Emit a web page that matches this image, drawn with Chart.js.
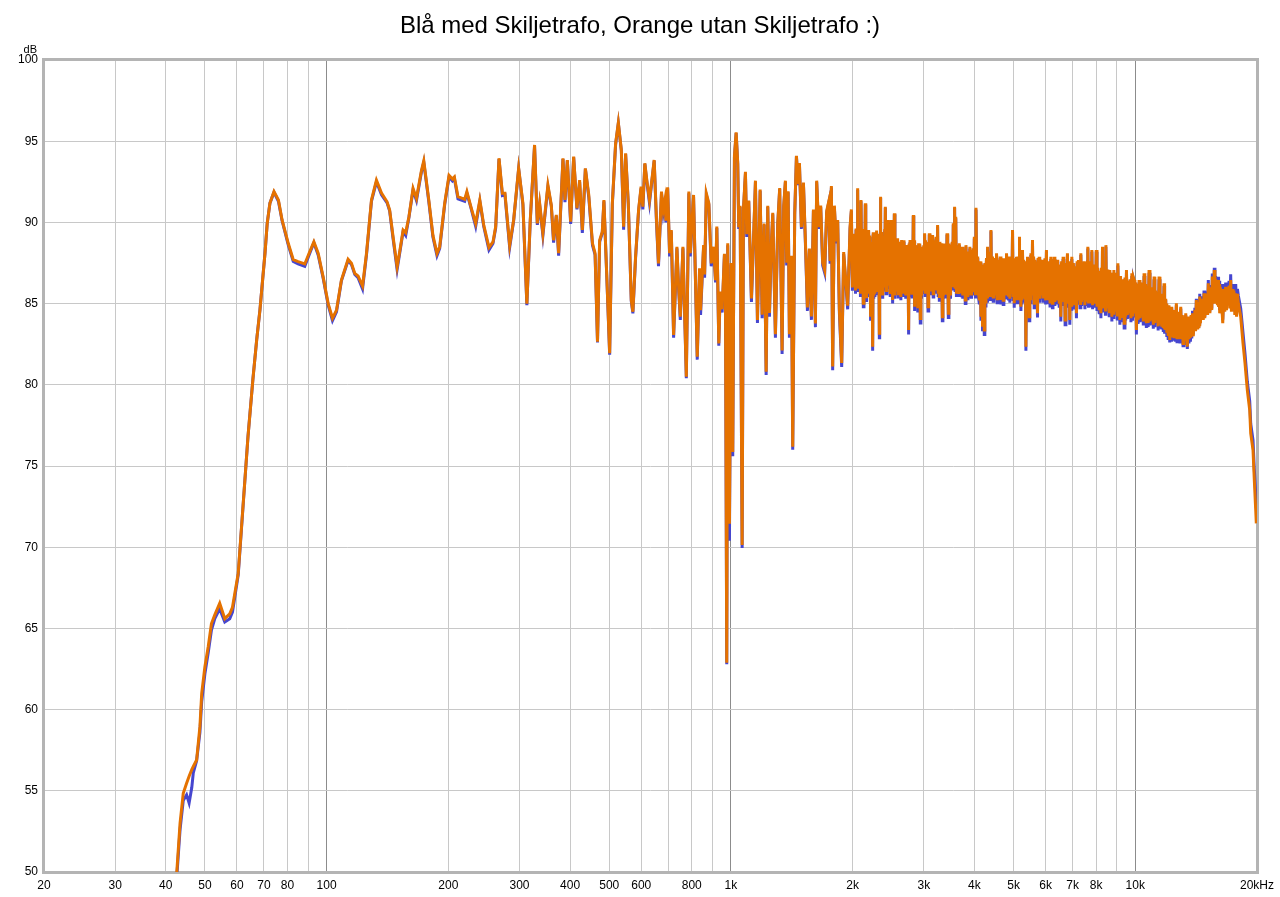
<!DOCTYPE html>
<html lang="sv">
<head>
<meta charset="utf-8">
<title>Blå med Skiljetrafo, Orange utan Skiljetrafo :)</title>
<script src="https://cdn.jsdelivr.net/npm/chart.js@4.4.1/dist/chart.umd.min.js"></script>
<style>
  html, body { margin: 0; padding: 0; background: #fff; }
  #wrap { width: 1280px; height: 897px; }
</style>
</head>
<body>
<div id="wrap"><canvas id="fr" width="1280" height="897"></canvas></div>
<script>
// Frequency response, two measurements (blue = with isolation transformer,
// orange = without). Values read off the REW screenshot, split by band.

const TITLE = 'Blå med Skiljetrafo, Orange utan Skiljetrafo :)';

// 40 - 200 Hz
const freqLow = [
  42.6, 43.4, 44.2, 45.05, 45.7, 46.4, 46.8, 47.7, 48.6, 49.1,
  50.0, 50.95, 51.9, 52.9, 54.4, 56.0, 57.6, 58.5, 60.45, 61.6,
  63.9, 65.7, 67.15, 68.4, 70.4, 71.3, 72.4, 74.1, 76.0, 77.6,
  80.4, 82.7, 85.0, 88.3, 90.5, 93.0, 95.3, 98.0, 100.9, 103.4,
  105.8, 108.8, 113.0, 115.2, 117.4, 119.6, 122.7, 125.5, 129.1, 132.8,
  136.7, 141.1, 143.2, 146.0, 149.4, 152.3, 154.6, 156.9, 159.8, 163.6,
  166.8, 171.6, 173.9, 178.9, 183.2, 187.5, 190.4, 195.9
];
const orangeLow = [
  50.0, 53.0, 54.85, 55.46, 55.9, 56.3, 56.5, 56.9, 58.95, 61.0,
  62.64, 63.87, 65.3, 65.83, 66.55, 65.6, 65.9, 66.3, 68.4, 71.26,
  76.8, 80.3, 82.76, 84.6, 88.1, 89.94, 91.18, 91.9, 91.38, 90.15,
  88.7, 87.7, 87.58, 87.44, 88.1, 88.8, 88.1, 86.66, 85.0, 84.1,
  84.6, 86.45, 87.73, 87.48, 86.86, 86.7, 86.08, 88.1, 91.38, 92.6,
  91.8, 91.27, 90.76, 89.12, 87.27, 88.5, 89.53, 89.37, 90.35, 92.1,
  91.48, 93.2, 93.8, 91.4, 89.2, 88.1, 88.5, 91.18
];
const blueLow = [
  49.7, 52.6, 54.4, 54.75, 54.25, 55.2, 56.1, 56.85, 58.6, 60.5,
  62.2, 63.5, 64.9, 65.6, 66.2, 65.4, 65.6, 66.0, 68.3, 71.2,
  76.8, 80.3, 82.76, 84.6, 88.1, 89.94, 91.18, 91.85, 91.3, 90.1,
  88.6, 87.6, 87.45, 87.3, 88.0, 88.75, 88.0, 86.6, 84.9, 83.95,
  84.5, 86.4, 87.65, 87.4, 86.8, 86.6, 85.9, 88.0, 91.3, 92.5,
  91.7, 91.2, 90.7, 89.0, 87.1, 88.4, 89.45, 89.2, 90.3, 92.0,
  91.35, 93.1, 93.7, 91.3, 89.1, 87.95, 88.4, 91.1
];

// 200 Hz - 1 kHz
const freqMid = [
  200.8, 204.7, 207.0, 211.3, 219.5, 222.3, 228.0, 233.7, 239.3, 244.7,
  252.1, 257.9, 261.9, 266.9, 272.1, 276.1, 283.6, 290.1, 298.5, 305.8,
  312.8, 318.9, 326.8, 332.0, 336.4, 342.7, 352.6, 359.5, 364.2, 369.9,
  374.8, 384.2, 388.6, 393.9, 401.4, 408.3, 416.0, 422.4, 429.0, 436.5,
  445.0, 454.5, 461.3, 467.7, 473.4, 480.6, 485.1, 493.5, 501.2, 508.9,
  518.5, 526.6, 535.7, 542.7, 548.9, 557.4, 566.9, 572.1, 580.9, 590.9,
  599.4, 605.5, 612.4, 619.4, 628.8, 645.9, 654.4, 661.9, 673.3, 679.9,
  686.5, 690.5, 697.3, 705.2, 712.0, 721.4, 735.1, 742.3, 749.5, 760.7,
  775.6, 786.9, 793.2, 808.2, 825.4, 836.3, 841.1, 855.8, 860.7, 869.1,
  881.7, 893.8, 905.7, 916.0, 922.7, 933.2, 940.4, 951.1, 963.6, 969.2,
  976.4, 981.9, 991.5
];
const orangeMid = [
  92.9, 92.67, 92.8, 91.58, 91.42, 91.9, 90.87, 89.94, 91.38, 89.84,
  88.46, 88.8, 89.74, 93.95, 91.79, 91.79, 88.6, 90.15, 93.33, 91.18,
  85.0, 90.15, 94.77, 89.94, 91.18, 89.33, 92.3, 91.07, 88.9, 90.46,
  88.1, 93.95, 91.38, 93.84, 90.05, 94.05, 90.87, 92.6, 89.53, 93.33,
  91.69, 88.71, 88.1, 82.66, 88.9, 89.43, 91.38, 86.45, 81.94, 91.18,
  94.87, 96.14, 94.46, 89.74, 94.26, 91.18, 85.22, 84.5, 87.89, 90.76,
  92.2, 90.97, 93.64, 92.6, 91.38, 93.84, 90.15, 87.48, 91.9, 90.76,
  91.38, 90.1, 92.16, 88.1, 89.53, 83.07, 88.5, 86.04, 84.2, 88.5,
  80.5, 91.9, 88.1, 91.69, 81.73, 87.17, 84.6, 88.6, 86.8, 91.79,
  91.18, 87.48, 88.5, 86.45, 89.74, 82.55, 85.75, 84.65, 88.06, 85.78,
  62.88, 88.72, 71.45
];
const blueMid = [
  92.8, 92.55, 92.7, 91.45, 91.3, 91.8, 90.8, 89.75, 91.3, 89.75,
  88.3, 88.7, 89.65, 93.9, 91.65, 91.7, 88.45, 90.1, 93.3, 91.1,
  84.9, 90.1, 94.7, 89.85, 91.1, 89.2, 92.2, 91.0, 88.75, 90.4,
  87.95, 93.9, 91.25, 93.8, 89.9, 94.0, 90.8, 92.5, 89.35, 93.3,
  91.55, 88.6, 88.0, 82.6, 88.8, 89.35, 91.3, 86.4, 81.85, 91.1,
  94.8, 96.1, 94.4, 89.55, 94.2, 91.1, 85.15, 84.4, 87.8, 90.7,
  92.1, 90.8, 93.6, 92.5, 91.2, 93.8, 90.0, 87.3, 91.8, 90.6,
  91.3, 90.0, 92.1, 87.9, 89.45, 82.9, 88.4, 85.9, 84.0, 88.4,
  80.4, 91.8, 87.9, 91.6, 81.55, 87.0, 84.3, 88.5, 86.6, 91.7,
  91.1, 87.3, 88.4, 86.3, 89.65, 82.4, 85.6, 84.45, 88.0, 85.6,
  62.8, 88.6, 70.4
];

// 1 - 2 kHz
const freqUpper = [
  1001.1, 1010.3, 1020.1, 1030.0, 1039.4, 1045.4, 1053.7, 1065.8, 1073.7, 1086.0,
  1094.1, 1106.6, 1123.8, 1136.7, 1149.7, 1162.9, 1180.9, 1194.4, 1208.1, 1222.0,
  1233.2, 1245.2, 1257.3, 1268.8, 1288.2, 1305.2, 1320.0, 1338.1, 1350.5, 1363.6,
  1373.7, 1384.8, 1395.1, 1411.1, 1421.6, 1438.0, 1452.0, 1466.2, 1477.0, 1494.0,
  1511.0, 1528.3, 1545.8, 1563.4, 1581.3, 1599.4, 1617.7, 1629.3, 1648.2, 1667.1,
  1686.2, 1705.4, 1724.9, 1744.6, 1758.4, 1771.6, 1784.8, 1802.2, 1819.7, 1836.4,
  1854.2, 1878.8, 1900.3, 1926.4, 1944.1, 1970.5, 1985.4
];
const orangeUpper = [
  87.5, 75.86, 94.1, 95.54, 93.66, 89.71, 91.03, 70.14, 90.8, 93.11,
  89.27, 91.35, 85.31, 88.83, 92.57, 83.99, 92.02, 84.32, 89.93, 80.8,
  91.03, 84.43, 88.39, 90.59, 83.11, 89.93, 92.12, 82.12, 91.03, 92.57,
  87.51, 91.91, 83.11, 87.95, 76.18, 90.59, 94.1, 92.35, 93.66, 89.71,
  92.46, 88.83, 84.76, 88.39, 84.21, 90.8, 83.77, 92.57, 89.71, 91.03,
  87.51, 87.07, 90.7, 91.26, 87.62, 92.24, 81.13, 91.03, 88.83, 90.15,
  84.65, 81.35, 88.17, 86.19, 84.87, 89.71, 90.8
];
const blueUpper = [
  87.4, 75.6, 94.0, 95.5, 93.6, 89.6, 90.95, 69.95, 90.7, 93.0,
  89.1, 91.3, 85.1, 88.7, 92.5, 83.8, 91.95, 84.1, 89.85, 80.6,
  90.95, 84.2, 88.3, 90.5, 82.9, 89.85, 92.05, 81.9, 90.95, 92.5,
  87.35, 91.85, 82.9, 87.8, 76.0, 90.5, 94.05, 92.3, 93.6, 89.6,
  92.4, 88.65, 84.55, 88.3, 84.0, 90.7, 83.55, 92.5, 89.6, 90.95,
  87.35, 86.9, 90.6, 91.2, 87.45, 92.15, 80.9, 90.95, 88.7, 90.05,
  84.45, 81.1, 88.05, 86.0, 84.65, 89.6, 90.7
];

// 2 - 4 kHz, the spikes
const freqPresence = [
  2019.5, 2039.0, 2057.7, 2077.1, 2097.2, 2125.0, 2149.4, 2165.3, 2190.1, 2215.2,
  2241.1, 2263.2, 2285.2, 2305.8, 2328.1, 2341.4, 2364.2, 2391.3, 2409.0, 2440.7,
  2454.6, 2488.4, 2511.2, 2535.8, 2560.2, 2583.7, 2608.7, 2643.2, 2668.8, 2699.4,
  2719.3, 2750.6, 2772.7, 2804.1, 2825.0, 2846.2, 2869.0, 2895.1, 2911.7, 2940.0,
  2968.6, 2990.6, 3012.8, 3037.0, 3071.9, 3094.7, 3124.9, 3153.0, 3184.2, 3215.2,
  3244.0, 3276.3, 3308.2, 3332.6, 3365.1, 3390.0, 3422.9, 3448.2, 3481.6, 3513.2,
  3547.4, 3573.9, 3602.3, 3629.1, 3670.6, 3719.2, 3755.4, 3798.0, 3841.4, 3885.4,
  3923.2, 3959.0, 3999.0
];
const orangePresence = [
  86.25, 89.53, 92.1, 88.3, 91.38, 85.02, 91.18, 85.33, 89.53, 84.19,
  82.35, 89.12, 87.07, 89.12, 83.17, 91.58, 88.6, 86.25, 90.97, 90.15,
  87.07, 90.15, 85.22, 90.56, 85.84, 89.02, 86.66, 88.92, 86.45, 88.3,
  87.89, 83.37, 88.92, 85.63, 90.46, 84.81, 88.1, 84.71, 88.71, 84.09,
  86.66, 87.89, 89.33, 88.2, 84.81, 89.33, 85.84, 89.22, 86.45, 89.12,
  89.84, 85.43, 88.71, 84.19, 88.1, 85.63, 89.33, 84.4, 88.1, 86.87,
  89.94, 90.97, 90.35, 86.25, 88.71, 85.63, 87.89, 85.22, 87.48, 85.84,
  88.3, 86.45, 89.12
];
const bluePresence = [
  86.05, 89.45, 92.0, 88.15, 91.3, 84.8, 91.1, 85.1, 89.45, 83.95,
  82.1, 89.0, 86.9, 89.0, 82.9, 91.5, 88.45, 86.05, 90.9, 90.05,
  86.9, 90.05, 85.0, 90.5, 85.6, 88.9, 86.45, 88.8, 86.25, 88.2,
  87.7, 83.1, 88.8, 85.4, 90.4, 84.55, 88.0, 84.45, 88.6, 83.8,
  86.5, 87.75, 89.25, 88.05, 84.55, 89.25, 85.6, 89.1, 86.25, 89.0,
  89.75, 85.2, 88.6, 83.95, 88.0, 85.4, 89.25, 84.15, 88.0, 86.7,
  89.85, 90.9, 90.25, 86.05, 88.6, 85.4, 87.75, 85.0, 87.35, 85.6,
  88.2, 86.25, 89.0
];

// 2 - 4 kHz, the dense core of the band between the spikes
const freqPresenceCore = [
  1996.8, 2008.1, 2026.0, 2032.5, 2045.2, 2051.5, 2064.2, 2070.6, 2083.8, 2090.5,
  2106.5, 2115.7, 2133.1, 2141.3, 2154.7, 2160.0, 2173.6, 2181.8, 2198.5, 2206.8,
  2223.8, 2232.5, 2248.5, 2255.8, 2270.5, 2277.9, 2292.1, 2298.9, 2313.2, 2320.7,
  2332.5, 2337.0, 2349.0, 2356.6, 2373.2, 2382.3, 2397.2, 2403.1, 2419.6, 2430.1,
  2445.3, 2450.0, 2465.9, 2477.1, 2496.0, 2503.6, 2519.4, 2527.6, 2543.9, 2552.1,
  2568.0, 2575.9, 2592.0, 2600.4, 2620.2, 2631.7, 2651.7, 2660.3, 2679.0, 2689.2,
  2706.0, 2712.7, 2729.7, 2740.2, 2758.0, 2765.3, 2783.2, 2793.6, 2811.1, 2818.0,
  2832.1, 2839.1, 2853.8, 2861.4, 2877.7, 2886.4, 2900.6, 2906.2, 2921.1, 2930.6,
  2949.5, 2959.1, 2975.9, 2983.3, 2998.0, 3005.4, 3020.9, 3028.9, 3048.6, 3060.3,
  3079.5, 3087.1, 3104.8, 3114.8, 3134.3, 3143.6, 3163.4, 3173.8, 3194.5, 3204.9,
  3224.8, 3234.4, 3254.8, 3265.5, 3286.9, 3297.6, 3316.3, 3324.5, 3343.4, 3354.3,
  3373.4, 3381.7, 3401.0, 3411.9, 3431.3, 3439.8, 3459.3, 3470.5, 3492.1, 3502.7,
  3524.6, 3536.0, 3556.2, 3565.1, 3583.4, 3592.8, 3611.2, 3620.2, 3642.9, 3656.8,
  3686.8, 3703.0, 3731.3, 3743.3, 3769.6, 3783.8, 3812.5, 3826.9, 3856.1, 3870.7,
  3898.0, 3910.6, 3935.1, 3947.1, 3972.3, 3985.7, 4011.5, 4024.1
];
const orangePresenceCore = [
  86.0, 89.3, 89.0, 85.8, 89.6, 86.2, 86.0, 89.8, 89.4, 85.7,
  86.1, 89.6, 89.2, 85.9, 86.3, 89.5, 89.0, 85.6, 85.9, 89.2,
  86.2, 88.8, 89.4, 85.5, 85.6, 89.0, 89.5, 85.8, 86.0, 89.3,
  89.0, 86.2, 85.7, 89.4, 85.5, 89.1, 89.6, 86.0, 85.8, 89.3,
  86.1, 89.0, 89.2, 85.6, 86.0, 88.9, 89.1, 85.8, 85.5, 88.7,
  88.9, 85.9, 85.6, 88.6, 88.8, 85.4, 85.7, 88.5, 88.9, 85.9,
  85.5, 88.6, 85.8, 88.4, 88.7, 85.6, 85.9, 88.8, 88.5, 85.7,
  85.6, 88.9, 88.6, 85.8, 85.5, 88.4, 88.3, 85.9, 85.7, 88.7,
  88.5, 85.5, 88.4, 85.8, 88.6, 86.0, 85.7, 88.9, 85.9, 88.5,
  88.8, 85.6, 85.8, 88.6, 88.7, 85.9, 85.6, 88.4, 88.9, 85.8,
  88.5, 85.9, 85.7, 88.6, 88.8, 85.6, 85.8, 88.3, 88.6, 85.5,
  85.9, 88.7, 88.4, 85.7, 85.6, 88.5, 88.7, 85.8, 85.5, 88.6,
  88.8, 86.0, 88.9, 86.2, 86.0, 88.9, 85.7, 88.5, 88.6, 85.6,
  85.8, 88.4, 88.5, 85.5, 85.7, 88.3, 88.6, 85.6, 85.4, 88.2,
  88.5, 85.6, 85.5, 88.3, 88.4, 85.7, 88.2, 85.6
];
const bluePresenceCore = [
  85.8, 89.2, 88.9, 85.6, 89.5, 86.0, 85.8, 89.7, 89.3, 85.5,
  85.9, 89.5, 89.1, 85.7, 86.1, 89.4, 88.9, 85.4, 85.7, 89.1,
  86.0, 88.7, 89.3, 85.3, 85.4, 88.9, 89.4, 85.6, 85.8, 89.2,
  88.9, 86.0, 85.5, 89.3, 85.3, 89.0, 89.5, 85.8, 85.6, 89.2,
  85.9, 88.9, 89.1, 85.4, 85.8, 88.8, 89.0, 85.6, 85.3, 88.6,
  88.8, 85.7, 85.4, 88.5, 88.7, 85.2, 85.5, 88.4, 88.8, 85.7,
  85.3, 88.5, 85.6, 88.3, 88.6, 85.4, 85.7, 88.7, 88.4, 85.5,
  85.4, 88.8, 88.5, 85.6, 85.3, 88.3, 88.2, 85.7, 85.5, 88.6,
  88.4, 85.3, 88.3, 85.6, 88.5, 85.8, 85.5, 88.8, 85.7, 88.4,
  88.7, 85.4, 85.6, 88.5, 88.6, 85.7, 85.4, 88.3, 88.8, 85.6,
  88.4, 85.7, 85.5, 88.5, 88.7, 85.4, 85.6, 88.2, 88.5, 85.3,
  85.7, 88.6, 88.3, 85.5, 85.4, 88.4, 88.6, 85.6, 85.3, 88.5,
  88.7, 85.8, 88.8, 86.0, 85.8, 88.8, 85.5, 88.4, 88.5, 85.4,
  85.6, 88.3, 88.4, 85.3, 85.5, 88.2, 88.5, 85.4, 85.2, 88.1,
  88.4, 85.4, 85.3, 88.2, 88.3, 85.5, 88.1, 85.4
];

// 4 - 20 kHz, the spikes and roll-off
const freqTreble = [
  4036.6, 4096.4, 4152.8, 4190.7, 4231.5, 4272.6, 4311.7, 4353.6, 4395.9, 4436.1,
  4486.9, 4538.2, 4590.1, 4653.2, 4695.8, 4749.5, 4803.9, 4858.9, 4914.5, 4970.7,
  5019.0, 5085.5, 5143.6, 5164.7, 5214.0, 5261.1, 5312.3, 5364.0, 5413.5, 5466.0,
  5519.0, 5569.1, 5623.0, 5677.6, 5729.7, 5785.3, 5841.5, 5894.5, 5951.7, 6029.4,
  6098.5, 6182.4, 6238.2, 6298.8, 6382.0, 6455.1, 6544.0, 6630.4, 6706.5, 6795.1,
  6888.1, 6967.4, 7059.6, 7152.8, 7234.4, 7333.7, 7430.6, 7546.2, 7632.8, 7720.1,
  7808.6, 7911.7, 8007, 8110, 8222, 8296.6, 8391.5, 8458.6, 8555.3, 8653.2,
  8752.2, 8852.5, 8953.8, 9056.3, 9159.9, 9264.8, 9386.8, 9510.4, 9658.0, 9807.3,
  9937.6, 10063, 10218, 10377, 10514, 10652, 10816, 10984, 11130, 11275,
  11450, 11627, 11780, 11895, 12004, 12169, 12308, 12470, 12635, 12779,
  12955, 13126, 13330, 13451, 13638, 13794, 13976, 14160, 14321, 14437,
  14602, 14791, 14987, 15157, 15367, 15506, 15683, 15863, 16018, 16173,
  16358, 16477, 16733, 16983, 17216, 17444, 17717, 17982, 18229, 18470,
  18682, 18928, 19188, 19298, 19552, 19697, 19855, 19923
];
const orangeTreble = [
  90.9, 85.63, 84.19, 83.58, 83.37, 87.07, 88.5, 86.87, 89.53, 86.66,
  85.63, 88.1, 86.45, 85.22, 87.48, 85.84, 88.1, 85.43, 87.07, 89.53,
  85.02, 87.89, 86.87, 89.12, 84.81, 88.3, 87.07, 82.35, 87.89, 84.19,
  88.1, 88.92, 85.02, 87.48, 84.4, 87.89, 85.84, 87.27, 85.43, 88.3,
  86.04, 87.89, 85.02, 87.89, 85.22, 87.27, 84.19, 87.89, 83.99, 88.1,
  83.99, 87.89, 85.43, 84.4, 87.68, 88.1, 85.22, 87.27, 88.5, 86.04,
  88.3, 85.63, 88.3, 85.02, 84.4, 88.5, 86.45, 88.6, 84.81, 87.07,
  84.19, 87.07, 84.6, 87.48, 83.99, 86.45, 83.79, 87.07, 84.4, 86.87,
  86.45, 83.37, 86.45, 84.19, 86.87, 83.79, 87.07, 83.99, 86.66, 83.99,
  86.66, 83.58, 86.25, 83.37, 84.6, 82.76, 84.81, 82.96, 85.02, 83.17,
  84.81, 82.55, 84.4, 82.35, 83.99, 82.96, 84.19, 85.22, 83.58, 85.43,
  84.19, 85.63, 84.81, 86.25, 85.02, 86.66, 87.07, 85.43, 86.45, 84.4,
  85.84, 83.79, 86.04, 85.63, 86.45, 85.02, 85.63, 85.02, 84.19, 82.55,
  81.32, 79.68, 78.45, 77.01, 75.99, 74.14, 72.29, 71.47
];
const blueTreble = [
  90.8, 85.4, 83.95, 83.3, 83.1, 86.9, 88.4, 86.7, 89.45, 86.45,
  85.4, 88.0, 86.25, 84.95, 87.35, 85.6, 88.0, 85.2, 86.9, 89.45,
  84.75, 87.75, 86.7, 89.0, 84.55, 88.2, 86.9, 82.1, 87.75, 83.95,
  88.0, 88.8, 84.75, 87.35, 84.15, 87.75, 85.6, 87.1, 85.2, 88.2,
  85.8, 87.75, 84.75, 87.75, 84.95, 87.1, 83.9, 87.75, 83.7, 88.0,
  83.7, 87.75, 85.2, 84.1, 87.55, 88.0, 84.95, 87.1, 88.4, 85.8,
  88.2, 85.4, 88.2, 84.75, 84.1, 88.4, 86.25, 88.5, 84.5, 86.9,
  83.9, 86.9, 84.3, 87.35, 83.7, 86.3, 83.5, 86.9, 84.1, 86.7,
  86.3, 83.1, 86.3, 83.9, 86.7, 83.5, 86.9, 83.7, 86.5, 83.8,
  86.5, 83.4, 86.1, 83.2, 84.5, 82.6, 84.7, 82.8, 84.9, 83.0,
  84.7, 82.4, 84.3, 82.2, 83.9, 82.85, 84.2, 85.3, 83.6, 85.6,
  84.3, 85.8, 84.95, 86.45, 85.2, 86.85, 87.2, 85.6, 86.65, 84.6,
  86.05, 84.0, 86.3, 85.9, 86.8, 85.6, 86.2, 85.5, 84.7, 83.2,
  81.9, 80.2, 79.0, 77.6, 76.6, 74.8, 73.3, 72.4
];

// 4 - 18 kHz, dense core of the band
const freqTrebleCore = [
  4056.5, 4076.5, 4115.2, 4134.0, 4165.4, 4178.1, 4204.3, 4217.9, 4245.2, 4258.9,
  4285.6, 4298.7, 4325.7, 4339.6, 4367.7, 4381.8, 4409.3, 4422.7, 4453.0, 4470.0,
  4504.0, 4521.1, 4555.5, 4572.8, 4611.1, 4632.2, 4667.4, 4681.6, 4713.7, 4731.6,
  4767.6, 4785.8, 4822.2, 4840.6, 4877.4, 4896.0, 4933.2, 4952.0, 4986.8, 5002.9,
  5041.2, 5063.3, 5104.9, 5124.2, 5150.6, 5157.7, 5181.1, 5197.6, 5229.7, 5245.4,
  5278.2, 5295.2, 5329.5, 5346.8, 5380.5, 5397.0, 5431.0, 5448.5, 5483.7, 5501.3,
  5535.7, 5552.4, 5587.1, 5605.0, 5641.2, 5659.4, 5695.0, 5712.4, 5748.2, 5766.8,
  5804.0, 5822.8, 5859.2, 5876.8, 5913.6, 5932.6, 5977.6, 6003.5, 6052.4, 6075.5,
  6126.5, 6154.4, 6201.0, 6219.6, 6258.4, 6278.6, 6326.5, 6354.3, 6406.4, 6430.7,
  6484.7, 6514.4, 6572.8, 6601.6, 6655.8, 6681.1, 6736.0, 6765.6, 6826.1, 6857.1,
  6914.5, 6941.0, 6998.1, 7028.9, 7090.7, 7121.7, 7180.0, 7207.2, 7267.5, 7300.6,
  7366.0, 7398.3, 7469.1, 7507.7, 7575.1, 7603.9, 7661.9, 7691.0, 7749.6, 7779.1,
  7843.0, 7877.3, 7943.5, 7975.2, 8041.3, 8075.7, 8147.3, 8184.7, 8246.9, 8271.7,
  8328.2, 8359.9, 8413.9, 8436.2, 8490.8, 8523.1, 8587.9, 8620.6, 8686.2, 8719.2,
  8785.6, 8819.1, 8886.3, 8920.0, 8988.0, 9022.1, 9090.8, 9125.4, 9194.9, 9229.8,
  9305.5, 9346.1, 9428.0, 9469.2, 9559.6, 9608.8, 9707.8, 9757.5, 9850.7, 9894.2,
  9979.4, 10021, 10115, 10166, 10271, 10324, 10423, 10468, 10560, 10606,
  10707, 10761, 10872, 10928, 11033, 11081, 11178, 11227, 11333, 11392,
  11509, 11568, 11678, 11729, 11818, 11857, 11931, 11968, 12059, 12114,
  12215, 12262, 12362, 12416, 12525, 12580, 12683, 12731, 12838, 12896,
  13012, 13069, 13194, 13262, 13370, 13411, 13513, 13576, 13690, 13742,
  13855, 13915, 14037, 14099, 14214, 14268, 14360, 14398, 14492, 14547,
  14665, 14728, 14856, 14922, 15044, 15100, 15227, 15297, 15413, 15460,
  15565, 15624, 15743, 15803, 15915, 15966, 16070, 16122, 16235, 16296,
  16398, 16437, 16562, 16648, 16816, 16900, 17061, 17138, 17292, 17368,
  17535, 17626, 17805, 17894
];
const orangeTrebleCore = [
  85.6, 87.9, 85.2, 87.6, 85.0, 87.4, 84.9, 87.2, 87.5, 85.1,
  87.8, 85.4, 85.6, 88.0, 88.2, 85.5, 85.7, 87.9, 85.4, 87.6,
  87.8, 85.5, 85.3, 87.7, 85.6, 87.9, 87.6, 85.4, 85.2, 87.8,
  87.5, 85.5, 85.6, 87.7, 87.9, 85.3, 87.6, 85.6, 85.5, 87.8,
  87.7, 85.4, 85.3, 87.9, 87.6, 85.7, 85.4, 87.8, 87.5, 85.2,
  85.5, 87.7, 85.3, 87.6, 87.4, 85.1, 85.4, 87.8, 87.6, 85.3,
  87.5, 85.5, 85.6, 87.9, 87.7, 85.3, 85.2, 87.6, 87.8, 85.4,
  85.3, 87.5, 87.7, 85.5, 85.4, 87.6, 87.8, 85.2, 85.3, 87.5,
  87.6, 85.1, 85.4, 87.7, 87.5, 85.3, 85.1, 87.6, 87.7, 85.2,
  85.0, 87.4, 87.6, 85.2, 85.1, 87.5, 87.3, 85.0, 85.2, 87.6,
  87.4, 84.9, 85.1, 87.5, 84.9, 87.3, 87.6, 85.2, 87.3, 85.0,
  85.1, 87.5, 87.6, 84.9, 87.4, 85.2, 85.0, 87.6, 87.5, 85.1,
  84.9, 87.3, 87.4, 85.0, 84.8, 87.2, 84.6, 87.0, 87.2, 84.7,
  84.8, 87.1, 87.0, 84.6, 84.7, 87.1, 86.9, 84.5, 84.6, 86.9,
  86.8, 84.4, 84.5, 86.8, 86.9, 84.3, 84.4, 86.6, 86.7, 84.2,
  84.3, 86.5, 86.6, 84.2, 84.3, 86.4, 86.5, 84.1, 84.2, 86.6,
  84.4, 86.3, 86.2, 84.0, 84.1, 86.3, 86.0, 83.9, 84.0, 86.2,
  86.1, 83.8, 83.9, 86.0, 85.9, 83.7, 83.8, 85.8, 85.7, 83.6,
  83.7, 85.6, 85.4, 83.5, 83.4, 85.3, 85.0, 83.2, 83.1, 84.9,
  84.7, 83.0, 83.0, 84.6, 84.5, 82.9, 82.9, 84.5, 84.4, 82.8,
  82.9, 84.3, 84.2, 82.7, 82.8, 84.1, 84.2, 82.8, 82.9, 84.3,
  84.4, 83.0, 84.6, 83.3, 83.5, 85.0, 85.1, 83.7, 83.8, 85.2,
  85.3, 84.0, 84.1, 85.5, 85.6, 84.3, 84.5, 85.9, 86.0, 84.6,
  86.4, 85.0, 85.0, 86.5, 86.3, 84.9, 84.8, 86.2, 86.0, 84.6,
  84.5, 85.9, 85.9, 84.5, 84.6, 86.0, 86.1, 84.7, 84.5, 85.9,
  85.8, 84.3, 84.2, 85.6
];
const blueTrebleCore = [
  85.35, 87.8, 84.95, 87.5, 84.75, 87.3, 84.65, 87.1, 87.4, 84.85,
  87.7, 85.15, 85.35, 87.9, 88.1, 85.25, 85.45, 87.8, 85.15, 87.5,
  87.7, 85.25, 85.05, 87.6, 85.35, 87.8, 87.5, 85.15, 84.95, 87.7,
  87.4, 85.25, 85.35, 87.6, 87.8, 85.05, 87.5, 85.35, 85.25, 87.7,
  87.6, 85.15, 85.05, 87.8, 87.5, 85.45, 85.15, 87.7, 87.4, 84.95,
  85.25, 87.6, 85.05, 87.5, 87.3, 84.85, 85.15, 87.7, 87.5, 85.05,
  87.4, 85.25, 85.35, 87.8, 87.6, 85.05, 84.95, 87.5, 87.7, 85.15,
  85.05, 87.4, 87.6, 85.25, 85.15, 87.5, 87.7, 84.95, 85.05, 87.4,
  87.5, 84.85, 85.15, 87.6, 87.4, 85.05, 84.85, 87.5, 87.6, 84.95,
  84.75, 87.3, 87.5, 84.95, 84.85, 87.4, 87.2, 84.75, 84.95, 87.5,
  87.3, 84.65, 84.85, 87.4, 84.65, 87.2, 87.5, 84.95, 87.2, 84.75,
  84.85, 87.4, 87.5, 84.65, 87.3, 84.95, 84.75, 87.5, 87.4, 84.85,
  84.65, 87.2, 87.3, 84.75, 84.55, 87.1, 84.35, 86.9, 87.1, 84.45,
  84.55, 87.0, 86.9, 84.35, 84.45, 87.0, 86.8, 84.25, 84.35, 86.8,
  86.7, 84.15, 84.25, 86.7, 86.8, 84.05, 84.15, 86.5, 86.6, 83.95,
  84.05, 86.4, 86.5, 83.95, 84.05, 86.3, 86.4, 83.85, 83.95, 86.5,
  84.15, 86.2, 86.1, 83.75, 83.85, 86.2, 85.9, 83.65, 83.75, 86.1,
  86.0, 83.55, 83.65, 85.9, 85.8, 83.45, 83.55, 85.7, 85.6, 83.35,
  83.45, 85.5, 85.3, 83.25, 83.15, 85.2, 84.9, 82.95, 82.85, 84.8,
  84.6, 82.75, 82.75, 84.5, 84.4, 82.65, 82.65, 84.4, 84.3, 82.55,
  82.65, 84.2, 84.1, 82.45, 82.55, 84.0, 84.1, 82.55, 82.65, 84.2,
  84.55, 83.1, 84.75, 83.4, 83.6, 85.15, 85.25, 83.8, 83.9, 85.35,
  85.45, 84.1, 84.2, 85.65, 85.75, 84.4, 84.6, 86.05, 86.15, 84.7,
  86.6, 85.2, 85.2, 86.7, 86.5, 85.1, 85.0, 86.4, 86.2, 84.8,
  84.7, 86.2, 86.2, 84.7, 84.8, 86.3, 86.4, 84.9, 84.7, 86.2,
  86.1, 84.5, 84.4, 85.9
];

const xTickValues = [
  20, 30, 40, 50, 60, 70, 80, 90,
  100, 200, 300, 400, 500, 600, 700, 800, 900,
  1000, 2000, 3000, 4000, 5000, 6000, 7000, 8000, 9000,
  10000, 20000
];
const xTickLabels = [
  '20', '30', '40', '50', '60', '70', '80', '',
  '100', '200', '300', '400', '500', '600', '', '800', '',
  '1k', '2k', '3k', '4k', '5k', '6k', '7k', '8k', '',
  '10k', '20kHz'
];
const decades = [100, 1000, 10000];

const freqBands = [freqLow, freqMid, freqUpper, freqPresence, freqPresenceCore, freqTreble, freqTrebleCore];
const orangeBands = [orangeLow, orangeMid, orangeUpper, orangePresence, orangePresenceCore, orangeTreble, orangeTrebleCore];
const blueBands = [blueLow, blueMid, blueUpper, bluePresence, bluePresenceCore, blueTreble, blueTrebleCore];

// pair each band's frequencies with its levels, then sort along the axis
function trace(levelBands) {
  const pts = [];
  freqBands.forEach((freqs, b) => {
    freqs.forEach((f, i) => pts.push({ x: f, y: levelBands[b][i] }));
  });
  return pts.sort((a, b) => a.x - b.x);
}

const FONT = "'Liberation Sans', Arial, sans-serif";

// grey frame round the plot, the title and the "dB" unit label
const frame = {
  id: 'frame',
  beforeDatasetsDraw(chart) {
    const { ctx, chartArea: a } = chart;
    ctx.save();
    ctx.strokeStyle = '#b4b4b4';
    ctx.lineWidth = 3;
    ctx.strokeRect(a.left - 0.5, a.top - 0.5, a.right - a.left + 1, a.bottom - a.top + 1);
    ctx.restore();
  },
  afterDraw(chart) {
    const { ctx, chartArea: a } = chart;
    ctx.save();
    ctx.fillStyle = '#000';
    ctx.textBaseline = 'middle';
    ctx.textAlign = 'center';
    ctx.font = '24px ' + FONT;
    ctx.fillText(TITLE, chart.width / 2, 26);
    ctx.font = '11px ' + FONT;
    ctx.textAlign = 'right';
    ctx.textBaseline = 'alphabetic';
    ctx.fillText('dB', a.left - 7, a.top - 7);
    ctx.restore();
  }
};

new Chart(document.getElementById('fr'), {
  type: 'line',
  data: {
    datasets: [
      {
        label: 'Orange utan Skiljetrafo',
        data: trace(orangeBands),
        borderColor: '#e57200',
        borderWidth: 3,
        pointRadius: 0,
        tension: 0,
        order: 0
      },
      {
        label: 'Blå med Skiljetrafo',
        data: trace(blueBands),
        borderColor: '#4646cf',
        borderWidth: 3,
        pointRadius: 0,
        tension: 0,
        order: 1
      }
    ]
  },
  options: {
    responsive: false,
    devicePixelRatio: 1,
    animation: false,
    events: [],
    layout: { padding: { top: 60, right: 22, bottom: 0, left: 0 } },
    plugins: {
      legend: { display: false },
      tooltip: { enabled: false },
      title: { display: false }
    },
    scales: {
      x: {
        type: 'logarithmic',
        min: 20,
        max: 20000,
        afterBuildTicks(scale) { scale.ticks = xTickValues.map(v => ({ value: v })); },
        afterFit(scale) { scale.height = 25; },
        border: { display: false },
        grid: {
          drawTicks: false,
          lineWidth: 1,
          color: c => (c.tick && decades.includes(c.tick.value)) ? '#8c8c8c' : '#c8c8c8'
        },
        ticks: {
          autoSkip: false,
          maxRotation: 0,
          padding: 6,
          color: '#000',
          font: { family: FONT, size: 12 },
          callback: (v, i) => xTickLabels[i]
        }
      },
      y: {
        min: 50,
        max: 100,
        afterFit(scale) { scale.width = 44; },
        border: { display: false },
        grid: { drawTicks: false, lineWidth: 1, color: '#c8c8c8' },
        ticks: {
          stepSize: 5,
          padding: 6,
          color: '#000',
          font: { family: FONT, size: 12 }
        }
      }
    }
  },
  plugins: [frame]
});
</script>
</body>
</html>
